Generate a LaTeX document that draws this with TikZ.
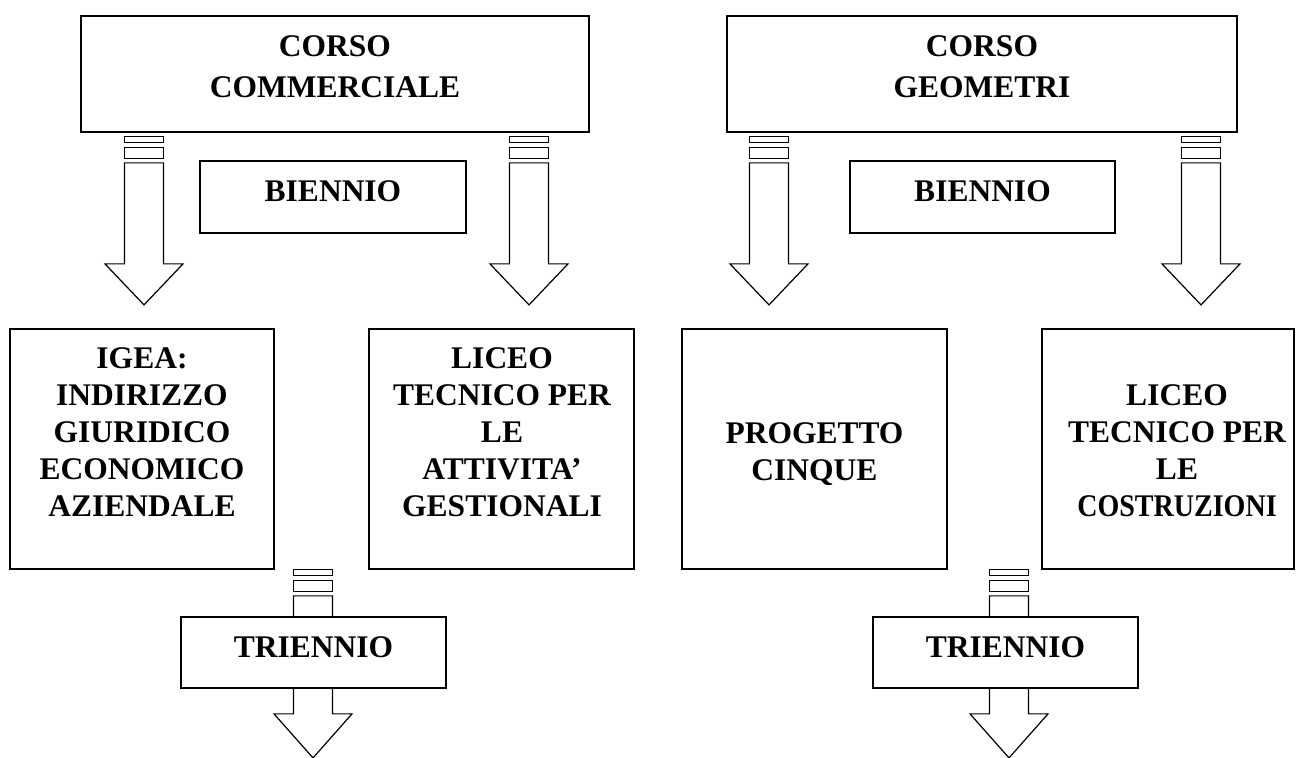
\documentclass[tikz,border=0pt]{standalone}
\usepackage{fontspec}
\setmainfont{Liberation Serif}
\usepackage{graphicx}
\usetikzlibrary{calc}

\tikzset{
  box/.style={draw,line width=0.9pt,fill=white,inner sep=0pt},
  txt/.style={font=\fontsize{15.75}{18.5}\selectfont\bfseries,align=center,inner sep=0pt,anchor=north},
  arrline/.style={draw,line width=0.6pt,fill=white,line join=miter}
}
% block arrow: #1 start point, #2 head base offset, #3 tip offset
\newcommand\barrow[3]{%
  \begin{scope}[shift={#1}]
    \draw[arrline] (-19.5,0) rectangle (19.5,6);
    \draw[arrline] (-19.5,11) rectangle (19.5,22);
    \draw[arrline] (-19.5,26)--(-19.5,#2)--(-39,#2)--(0,#3)--(39,#2)--(19.5,#2)--(19.5,26)--cycle;
  \end{scope}}

\begin{document}
\begin{tikzpicture}[x=0.5pt,y=-0.5pt]
  \useasboundingbox (0,0) rectangle (1297,758);
  % columns of the arrows
  \coordinate (a1) at (144,0);
  \coordinate (a2) at (529,0);
  \coordinate (b1) at (769,0);
  \coordinate (b2) at (1201,0);
  \coordinate (t1) at (313,0);
  \coordinate (t2) at (1009,0);
  % top boxes
  \node[box,minimum width=254pt,minimum height=58pt] (corsoC) at (335,74) {};
  \node[box,minimum width=255pt,minimum height=58pt] (corsoG) at (982,74) {};
  \node[txt,font=\fontsize{15.75}{20.5}\selectfont\bfseries] (corsoCT) at (335,35) {CORSO\\COMMERCIALE};
  \node[txt,font=\fontsize{15.75}{20.5}\selectfont\bfseries] (corsoGT) at (982,35) {CORSO\\GEOMETRI};
  % content boxes
  \node[box,minimum width=132pt,minimum height=120pt] (igea) at (142,449) {};
  \node[box,minimum width=132.5pt,minimum height=120pt] (liceoG) at (501.5,449) {};
  \node[box,minimum width=132.5pt,minimum height=120pt] (progetto) at (814.5,449) {};
  \node[box,minimum width=126pt,minimum height=120pt] (liceoC) at (1168,449) {};
  \node[txt] (igeaT) at (142,347) {IGEA:\\INDIRIZZO\\GIURIDICO\\ECONOMICO\\AZIENDALE};
  \node[txt] (liceoGT) at (502,347) {LICEO\\TECNICO PER\\LE\\ATTIVITA’\\GESTIONALI};
  \node[txt] (progettoT) at (814.5,422) {PROGETTO\\CINQUE};
  \node[txt] (liceoCT) at (1177,384) {LICEO\\TECNICO PER\\LE\\\scalebox{0.89}[1]{COSTRUZIONI}};
  % arrows
  \barrow{($(a1|-corsoC.south)+(0,4)$)}{127}{168}
  \barrow{($(a2|-corsoC.south)+(0,4)$)}{127}{168}
  \barrow{($(b1|-corsoG.south)+(0,4)$)}{127}{168}
  \barrow{($(b2|-corsoG.south)+(0,4)$)}{127}{168}
  \barrow{(t1|-igea.south)}{144}{188}
  \barrow{(t2|-progetto.south)}{144}{188}
  % middle boxes
  \node[box,minimum width=133pt,minimum height=36pt] (biennioC) at (333,197) {};
  \node[box,minimum width=132.5pt,minimum height=36pt] (biennioG) at (982.5,197) {};
  \node[txt] (biennioCT) at (333,180) {BIENNIO};
  \node[txt] (biennioGT) at (982.5,180) {BIENNIO};
  \node[box,minimum width=132.5pt,minimum height=35.5pt] (trienC) at (313.5,652.5) {};
  \node[box,minimum width=132.5pt,minimum height=35.5pt] (trienG) at (1005.5,652.5) {};
  \node[txt] (trienCT) at (313.5,636) {TRIENNIO};
  \node[txt] (trienGT) at (1005.5,636) {TRIENNIO};
\end{tikzpicture}
\end{document}
